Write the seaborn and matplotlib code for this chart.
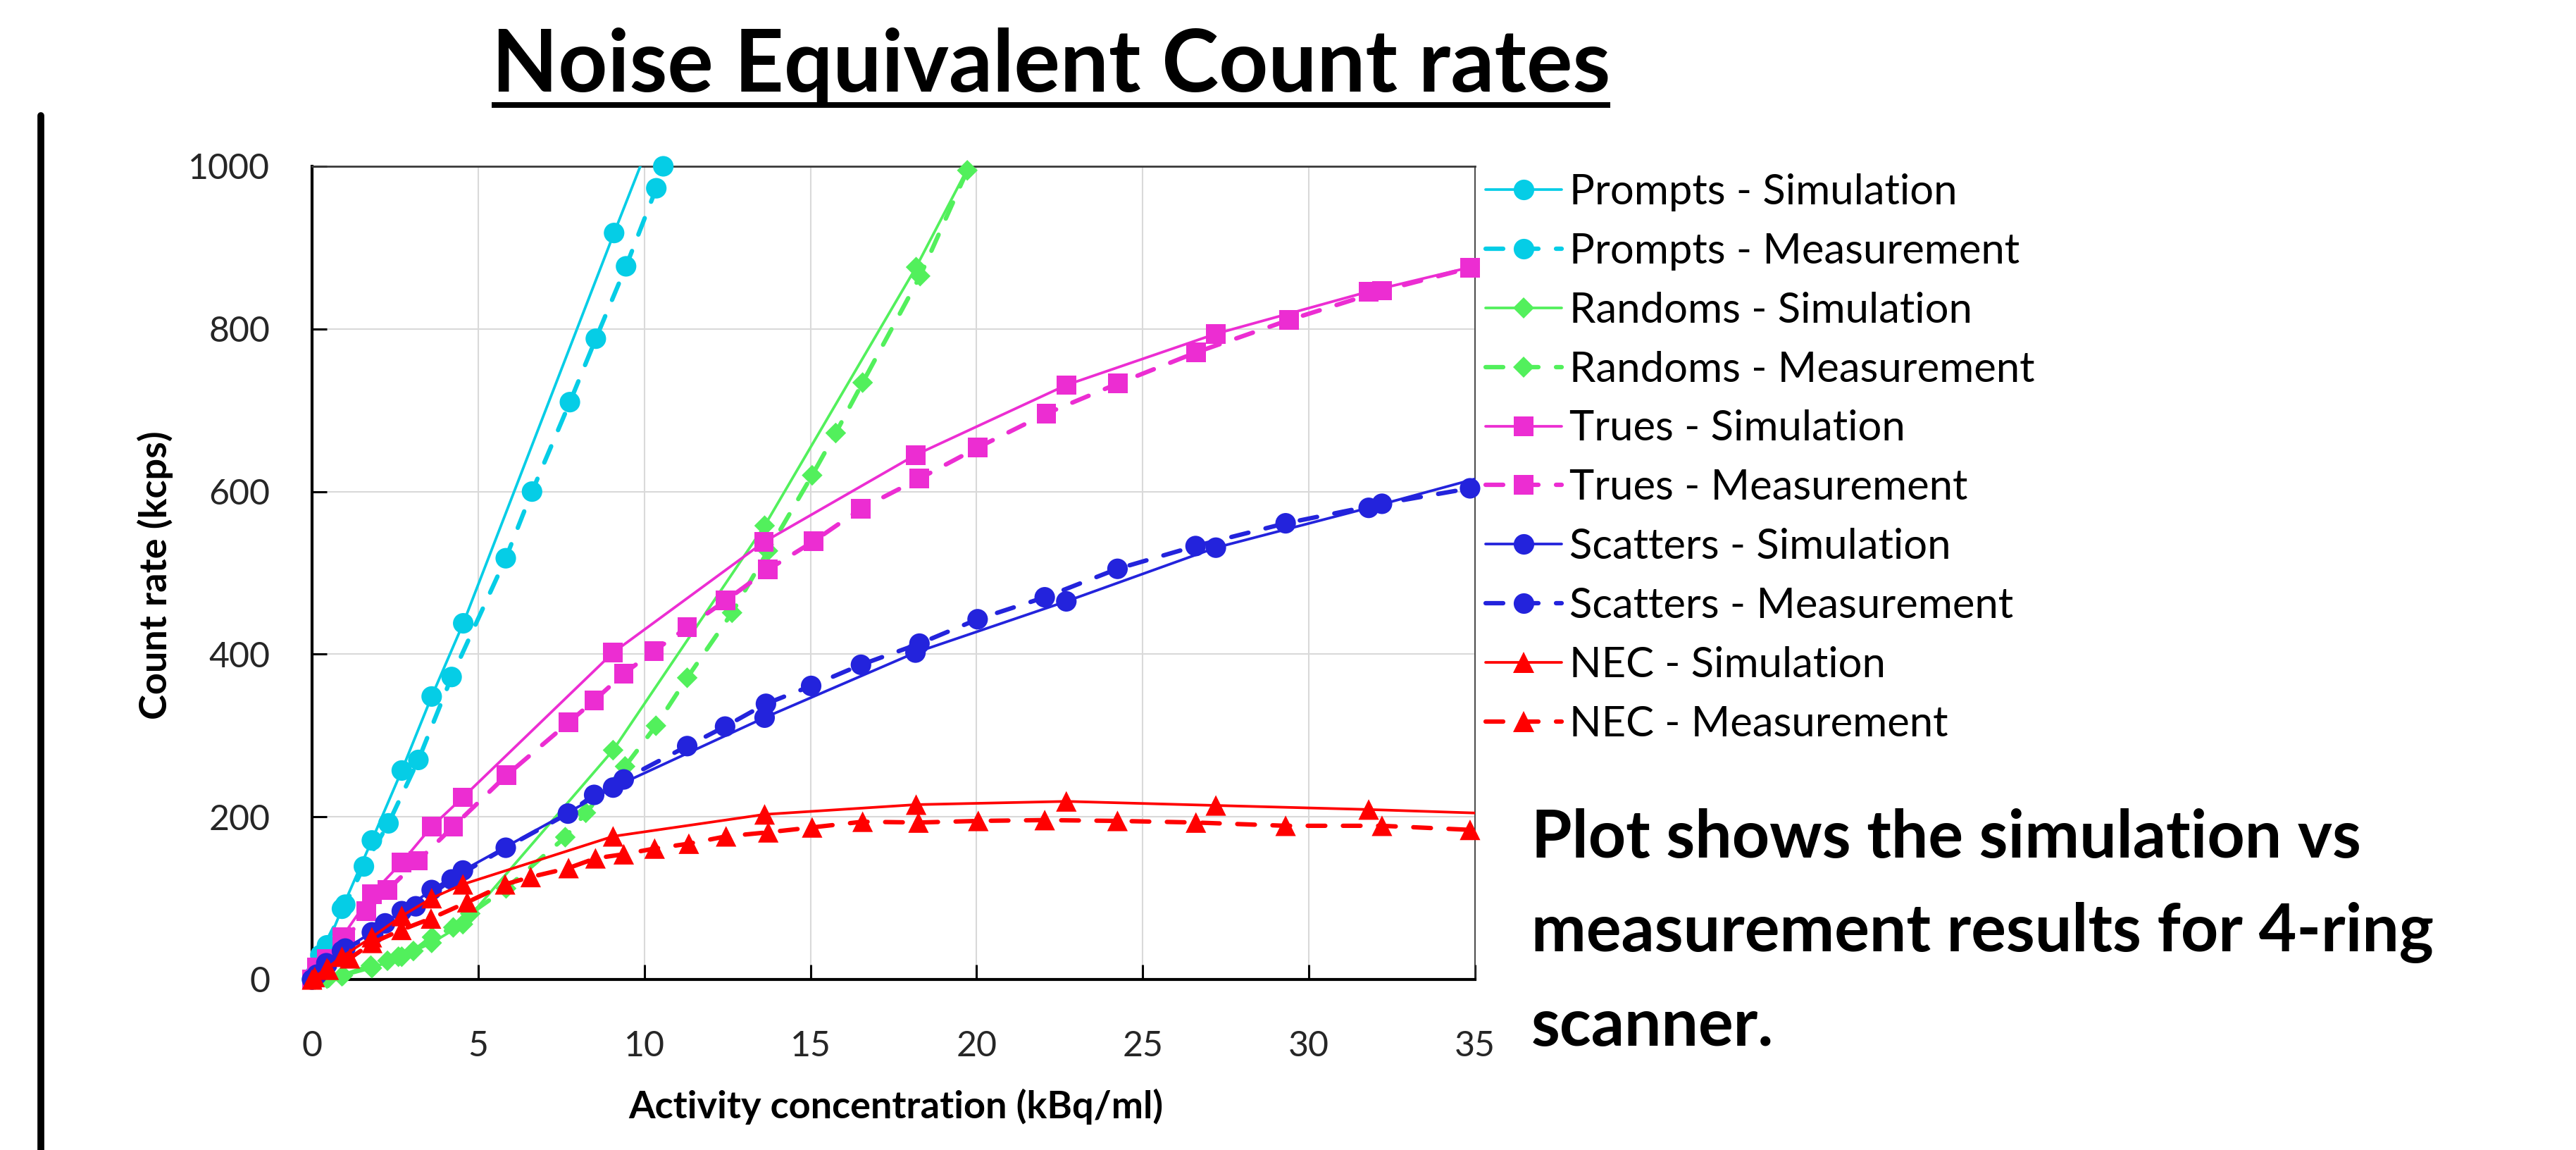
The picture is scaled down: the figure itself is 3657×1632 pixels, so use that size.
import matplotlib
matplotlib.use("Agg")
import matplotlib.pyplot as plt
from matplotlib.lines import Line2D
import pandas as pd
import seaborn as sns

# ---- data: activity concentration (kBq/ml) vs count rate (kcps) ----
prompts_sim_x = [0, 0.45, 0.9, 1.8, 2.7, 3.6, 4.55, 9.09, 13.63]
prompts_sim_y = [0, 42, 87, 171, 257, 348, 438, 918, 1390]
prompts_meas_x = [0.05, 0.25, 1.0, 1.56, 2.3, 3.2, 4.2, 5.83, 6.62, 7.76, 8.54, 9.45, 10.36, 10.57]
prompts_meas_y = [4, 30, 92, 139, 192, 270, 372, 518, 600, 710, 788, 877, 973, 1000]

randoms_sim_x = [0, 0.45, 0.9, 1.8, 2.7, 3.6, 4.54, 9.06, 13.62, 18.18, 22.7]
randoms_sim_y = [0, 1, 4, 14, 28, 45, 68, 282, 558, 876, 1230]
randoms_meas_x = [0.1, 0.5, 0.93, 1.77, 2.27, 2.6, 3.05, 3.61, 4.25, 4.76, 5.84, 7.62, 8.24,
                  9.42, 10.35, 11.29, 12.64, 13.72, 15.05, 15.76, 16.57, 18.3, 19.72]
randoms_meas_y = [0, 2, 5, 17, 23, 28, 35, 52, 64, 81, 112, 175, 205,
                  262, 312, 371, 451, 527, 620, 672, 734, 865, 995]

trues_sim_x = [0, 0.45, 0.9, 1.8, 2.7, 3.6, 4.54, 9.06, 13.6, 18.16, 22.7, 27.2, 31.8, 36.3]
trues_sim_y = [0, 25, 52, 105, 144, 188, 224, 402, 538, 645, 731, 794, 846, 890]
trues_meas_x = [0.15, 1.0, 1.63, 2.27, 3.19, 4.25, 5.85, 7.72, 8.49, 9.38, 10.29, 11.29, 12.45,
                13.72, 15.1, 16.52, 18.28, 20.03, 22.1, 24.26, 26.6, 29.4, 32.2, 34.85]
trues_meas_y = [15, 48, 84, 110, 146, 188, 251, 316, 343, 376, 404, 433, 466,
                504, 539, 579, 616, 654, 696, 733, 771, 811, 847, 875]

scatters_sim_x = [0, 0.45, 0.9, 1.8, 2.7, 3.6, 4.54, 9.06, 13.62, 18.16, 22.7, 27.2, 31.8, 36.3]
scatters_sim_y = [0, 18, 35, 58, 84, 110, 134, 236, 322, 402, 465, 531, 580, 630]
scatters_meas_x = [0.15, 0.43, 1.0, 1.84, 2.2, 3.12, 4.2, 5.83, 7.7, 8.49, 9.38, 11.29, 12.43,
                   13.66, 15.02, 16.52, 18.28, 20.03, 22.05, 24.24, 26.59, 29.3, 32.2, 34.85]
scatters_meas_y = [6, 20, 38, 55, 69, 90, 123, 162, 204, 227, 246, 287, 311,
                   339, 361, 387, 413, 443, 470, 505, 533, 561, 585, 604]

nec_sim_x = [0, 0.45, 0.9, 1.8, 2.7, 3.6, 4.54, 9.06, 13.62, 18.18, 22.7, 27.2, 31.8, 36.3]
nec_sim_y = [0, 14, 28, 52, 78, 100, 117, 176, 203, 215, 219, 214, 209, 203]
nec_meas_x = [0.08, 0.5, 1.14, 1.81, 2.69, 3.58, 4.67, 5.81, 6.58, 7.72, 8.53, 9.38, 10.31,
              11.34, 12.46, 13.73, 15.05, 16.57, 18.25, 20.05, 22.05, 24.24, 26.6, 29.3, 32.2, 34.85]
nec_meas_y = [3, 12, 26, 45, 61, 75, 95, 117, 126, 137, 149, 154, 161,
              167, 176, 181, 187, 194, 193, 195, 196, 195, 193, 189, 189, 184]

x_ticks = [0, 5, 10, 15, 20, 25, 30, 35]
y_ticks = [0, 200, 400, 600, 800, 1000]

CYAN, GREEN, MAGENTA, BLUE, RED = "#05CDE6", "#52F05C", "#EC2DD2", "#2323DC", "#FF0000"

series = [
    ("Prompts - Simulation", prompts_sim_x, prompts_sim_y, CYAN, "o", 21, True),
    ("Prompts - Measurement", prompts_meas_x, prompts_meas_y, CYAN, "o", 21, False),
    ("Randoms - Simulation", randoms_sim_x, randoms_sim_y, GREEN, "D", 15, True),
    ("Randoms - Measurement", randoms_meas_x, randoms_meas_y, GREEN, "D", 15, False),
    ("Trues - Simulation", trues_sim_x, trues_sim_y, MAGENTA, "s", 20, True),
    ("Trues - Measurement", trues_meas_x, trues_meas_y, MAGENTA, "s", 20, False),
    ("Scatters - Simulation", scatters_sim_x, scatters_sim_y, BLUE, "o", 21, True),
    ("Scatters - Measurement", scatters_meas_x, scatters_meas_y, BLUE, "o", 21, False),
    ("NEC - Simulation", nec_sim_x, nec_sim_y, RED, "^", 21, True),
    ("NEC - Measurement", nec_meas_x, nec_meas_y, RED, "^", 21, False),
]

SIM_LW = 2.7
MEAS_LW = 4.5
DASH = (0, (4, 4))

sns.set_theme(style="white")
plt.rcParams["font.family"] = ["Lato", "DejaVu Sans"]

W, H = 3657, 1632
fig = plt.figure(figsize=(W / 100, H / 100), dpi=100)
ax = fig.add_axes([443 / W, 1 - 1390 / H, (2094 - 443) / W, (1390 - 236) / H])

for i, (label, xs, ys, color, marker, ms, is_sim) in enumerate(series):
    df = pd.DataFrame({"x": xs, "y": ys})
    z = 3 + i * 0.1
    sns.lineplot(data=df, x="x", y="y", ax=ax, color=color,
                 linestyle="-" if is_sim else DASH,
                 linewidth=SIM_LW if is_sim else MEAS_LW,
                 estimator=None, errorbar=None, sort=True, zorder=z,
                 dash_capstyle="round", solid_capstyle="round")
    inside = df[(df.x >= 0) & (df.x <= 35) & (df.y >= 0) & (df.y <= 1000)]
    sns.scatterplot(data=inside, x="x", y="y", ax=ax, color=color, marker=marker,
                    s=ms ** 2, edgecolor="none", linewidth=0, zorder=z + 0.05,
                    clip_on=False, legend=False)

ax.set_xlim(0, 35)
ax.set_ylim(0, 1000)
ax.set_xticks(x_ticks)
ax.set_yticks(y_ticks)
ax.grid(True, color="#D9D9D9", linewidth=1.5)
ax.set_axisbelow(True)
ax.tick_params(direction="in", length=15, width=2.2, color="black",
               labelsize=36, labelcolor="#262626")
ax.tick_params(axis="y", pad=43, left=True, right=False)
ax.tick_params(axis="x", pad=52, bottom=True, top=False)
for side in ("left", "bottom"):
    ax.spines[side].set_color("black")
    ax.spines[side].set_linewidth(3)
ax.spines["top"].set_color("#3A3A3A")
ax.spines["top"].set_linewidth(2)
ax.spines["right"].set_color("#3A3A3A")
ax.spines["right"].set_linewidth(1.3)

ax.set_xlabel("Activity concentration (kBq/ml)", fontsize=39, fontweight="bold", color="black")
ax.xaxis.set_label_coords(0.502, -0.1707)
ax.xaxis.label.set_va("baseline")
ax.set_ylabel("Count rate (kcps)", fontsize=39, fontweight="bold", color="black")
ax.yaxis.set_label_coords(-0.135, 0.497)
ax.yaxis.label.set_va("center")

handles = [Line2D([], [], color=c, linestyle="-" if sim else DASH,
                  linewidth=SIM_LW if sim else MEAS_LW, marker=m, markersize=ms,
                  markeredgewidth=0, dash_capstyle="round")
           for (_, _, _, c, m, ms, sim) in series]
labels = [s[0] for s in series]
fig.legend(handles, labels, loc="upper left", bbox_to_anchor=(2109 / W, 1 - 246 / H),
           frameon=False, fontsize=43, handlelength=1.8, handletextpad=0.2,
           labelspacing=0.5, borderpad=0, borderaxespad=0, labelcolor="black")

title = fig.text(0.408, 1 - 130 / H, "Noise Equivalent Count rates", ha="center",
                 va="baseline", fontsize=88, fontweight="bold", color="black")

for text, base in (("Plot shows the simulation vs", 1217),
                   ("measurement results for 4-ring", 1350),
                   ("scanner.", 1484)):
    fig.text(2174 / W, 1 - base / H, text, ha="left", va="baseline",
             fontsize=67, fontweight="bold", color="black")

# vertical rule on the left edge
fig.add_artist(Line2D([58 / W, 58 / W], [0, 1 - 164 / H], color="black", linewidth=7,
                      transform=fig.transFigure))

# underline the heading
fig.canvas.draw()
bb = title.get_window_extent()
uy = 1 - 149 / H
fig.add_artist(Line2D([bb.x0 / W, bb.x1 / W], [uy, uy], color="black", linewidth=5.8,
                      solid_capstyle="butt", transform=fig.transFigure))

fig.savefig("out.png", dpi=100)
